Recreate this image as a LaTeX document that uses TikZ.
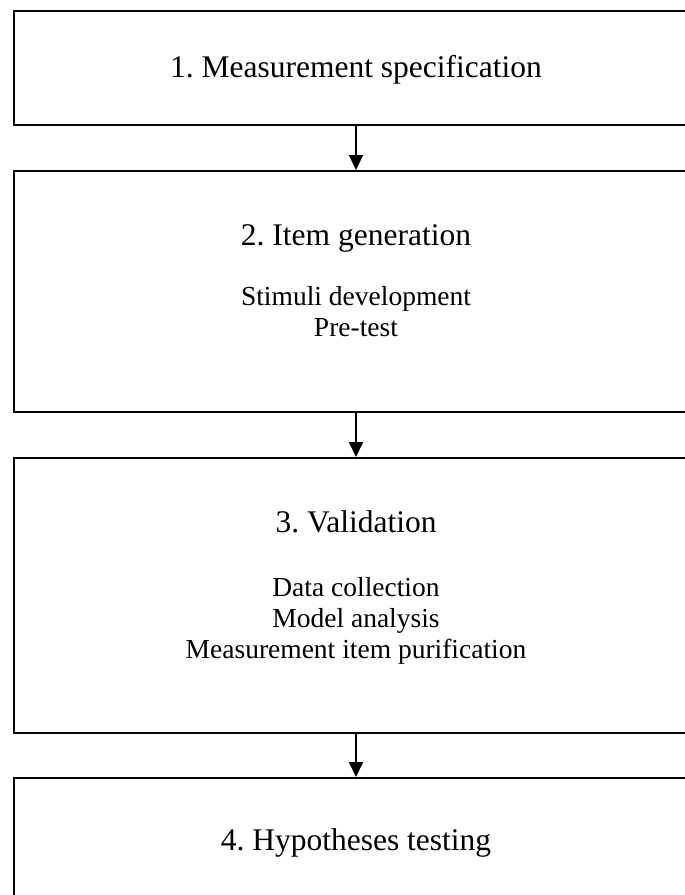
\documentclass[tikz,border=0pt]{standalone}
\usepackage{fontspec}
\setmainfont{Liberation Serif}
\usetikzlibrary{arrows.meta}
\frenchspacing
\begin{document}
\begin{tikzpicture}[x=1pt,y=-1pt,
  stage/.style={draw=black,line width=2pt,minimum width=684pt,inner sep=0pt,anchor=center},
  stagetitle/.style={font=\fontsize{31.5}{36}\selectfont,inner sep=0pt},
  stagesteps/.style={font=\fontsize{27.5}{31}\selectfont,align=center,inner sep=0pt},
  flow/.style={line width=2pt,-{Triangle[width=14pt,length=15pt]}}]
  \useasboundingbox (0,0) rectangle (685,895);
  \clip (0,0) rectangle (685,895);
  % the four stage boxes
  \node[stage,minimum height=114pt] (s1) at (356,68) {};
  \node[stage,minimum height=241pt] (s2) at (356,291.5) {};
  \node[stage,minimum height=275pt] (s3) at (356,595.5) {};
  \node[stage,minimum height=135pt] (s4) at (356,845.5) {};
  % stage headings
  \node[stagetitle] (t1) at (356,70) {1. Measurement specification};
  \node[stagetitle] (t2) at (356,238) {2. Item generation};
  \node[stagetitle] (t3) at (356,522) {3. Validation};
  \node[stagetitle] (t4) at (356,843) {4. Hypotheses testing};
  % activities within the stages
  \node[stagesteps] (d2) at (356,312) {Stimuli development\\Pre-test};
  \node[stagesteps] (d3) at (356,620.5) {Data collection\\Model analysis\\Measurement item purification};
  % flow between stages
  \draw[flow] (s1.south) -- (s2.north);
  \draw[flow] (s2.south) -- (s3.north);
  \draw[flow] (s3.south) -- (s4.north);
\end{tikzpicture}
\end{document}
